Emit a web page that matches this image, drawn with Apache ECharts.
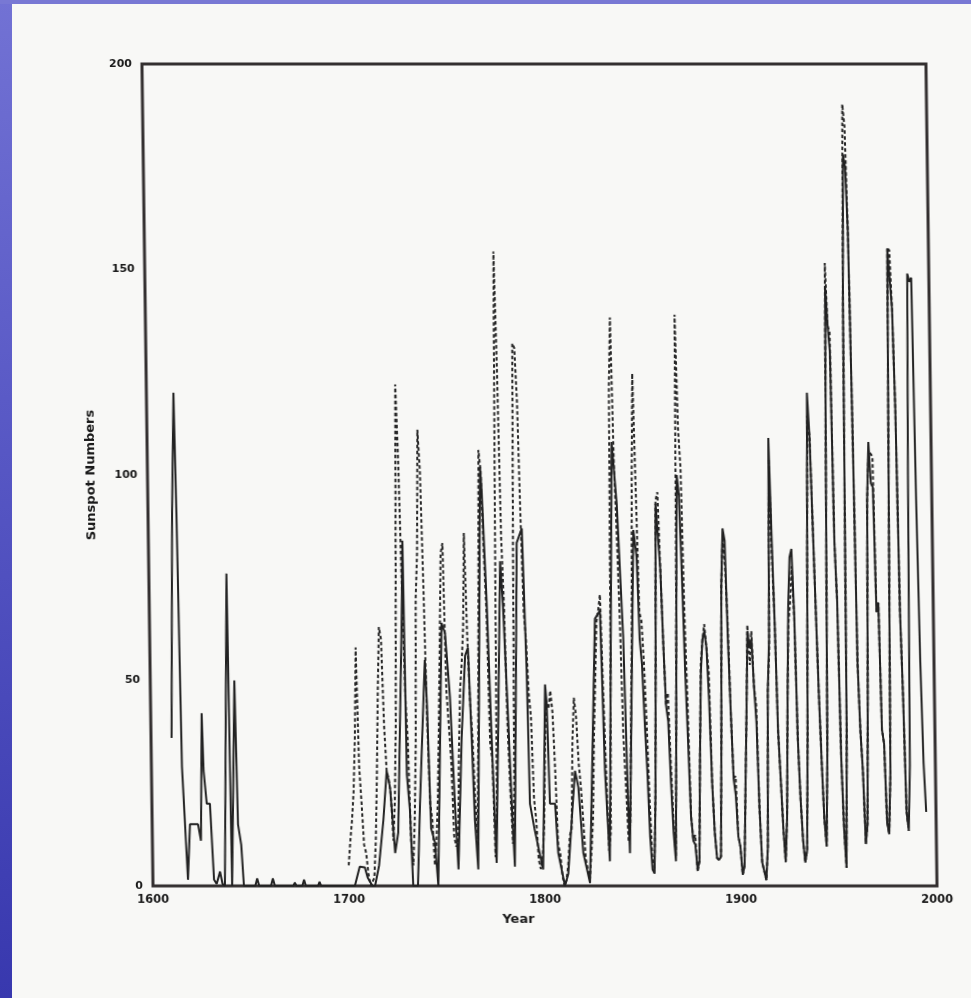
<!DOCTYPE html>
<html><head><meta charset="utf-8">
<script src="https://cdn.jsdelivr.net/npm/echarts/dist/echarts.min.js"></script>
<style>
html,body{margin:0;padding:0;background:#f8f8f6;overflow:hidden;width:971px;height:998px;}
#chart{position:absolute;left:0;top:0;width:971px;height:998px;transform:skewX(0.77deg);transform-origin:0 886px;}
#blueL{position:absolute;left:0;top:0;width:12px;height:998px;background:linear-gradient(#7272d4,#5a5ac6 40%,#3838ae);z-index:5}
#blueT{position:absolute;left:0;top:0;width:971px;height:4px;background:#7878d4;z-index:5}
</style></head><body>
<div id="chart"></div><div id="blueL"></div><div id="blueT"></div>
<script>
// x-axis tick labels (years) and y-axis tick labels
const xTicks = [1600, 1700, 1800, 1900, 2000];
const yTicks = [0, 50, 100, 150, 200];

// Solid line (group sunspot numbers), 1610-1849: [year, value]
const groupReadPairs = [
[1610.5,36],[1612.3,91],[1613.8,120],[1614.5,91],[1615.6,29],[1617.9,1.5],[1619.3,15],[1623.4,15],[1624.8,11],[1626,42],[1626.6,28],[1628,20],[1629.6,20],[1631.2,1.5],[1632.5,0.5],[1634.3,3.5],[1635.5,0.5],[1636.7,0],[1639.6,76],[1640.4,0],[1641,0],[1642.9,50],[1643.8,15],[1645.3,10],[1646.4,0],
[1652.2,0],[1653.2,1.8],[1654.2,0],[1660.2,0],[1661.2,1.8],[1662.2,0],[1671.6,0],[1672.4,0.8],[1673.2,0],[1676.2,0],[1677.1,1.5],[1678,0],[1684.2,0],[1685,1],[1685.8,0],
[1703,0],[1705.6,4.7],[1708.2,4.5],[1709.6,2],[1712,0],[1713.3,0],[1715.5,5],[1718,16],[1720,28],[1721.6,24],[1723,14],[1723.8,8],[1725.5,13],[1728.7,65],[1729.6,84],[1730,52],[1730.3,27],[1731.6,18.5],[1732.8,0],[1735.2,0],[1736.8,20],[1740.2,55],[1741,44.5],[1742.3,14],[1744.2,10.5],[1745.6,0],[1749,64],[1750.7,61.5],[1752.8,46],[1754.6,20],[1756,4],[1758.5,36],[1760.8,56],[1762.3,58],[1763.6,36],[1764.7,16],[1766.1,4],[1769.7,102],[1770.4,96],[1772.2,69],[1773.8,36],[1775.5,5.6],[1779.3,79],[1780.5,68],[1782.4,40],[1783.6,20],[1784.8,4.7],[1787.9,83.5],[1790.6,87],[1792.1,52.6],[1792.9,20],[1795,14],[1797.5,8],[1799.2,4],
[1801.4,49],[1802.1,44.5],[1803.1,20],[1805.7,20],[1807,8],[1810.2,0],[1812,3],[1814.1,16],[1816.1,28],[1817.7,24],[1819.8,8],[1823,0.7],[1827.3,65],[1829.9,67],[1831.4,28],[1833.3,6],[1837,108],[1839.2,93],[1841.6,60.7],[1843,20],[1843.6,8],[1847.5,86.6],[1849,80]
];

// Solid line, yearly values from 1850
const groupYearlyStart = 1850;
const groupYearly = [
60,54,40,28,12,4,3,22,55,93,
93,77,59,44,40,25,13,6,37,70,
100,95,75,52,35,17,11,10,4,6,
32,52,60,62,58,45,25,13,6.8,6.3,
7.1,35.6,73,87,84,60,42,26,22,12,
9.5,2.7,5,24.4,42,62,58,60,48.5,40,
18.6,5.7,3.6,1.4,9.6,47.4,60,109,85,63.6,
37.6,26.1,14.2,5.8,16.7,44.3,68,80,82,66,
35.7,21.2,11.1,5.7,8.7,36.1,80,120,109.6,88.8,
67.8,47.5,30.6,16.3,9.6,33.2,92.6,146,136.3,130,
83.9,69.4,31.5,13.9,4.4,38,141.7,178,175,159,
112.3,53.9,37.6,27.9,10.2,15.1,47,93.8,108,98,
97,66.6,68.9,38,34.5,15.5,12.6,27.5,92.5,155,
154.6,140.4,115.9,66.6,45.9,17.9,13.4,29.4,100,149,
147,148,94,54.6,29.9,18
];

// Dashed line (Wolf sunspot numbers), yearly from 1700
const wolfStart = 1700;
const wolfYearly = [
5,11,16,23,36,58,29,20,10,8,
3,0,0,2,11,27,47,63,60,39,
28,26,22,11,21,40,78,122,103,73,
47,35,11,5,16,34,70,81,111,101,
73,40,20,16,5,11,22,40,60,80.9,
83.4,47.7,47.8,30.7,12.2,9.6,10.2,32.4,47.6,54,
62.9,85.9,61.2,45.1,36.4,20.9,11.4,37.8,69.8,106.1,
100.8,81.6,66.5,34.8,30.6,7,19.8,92.5,154.4,125.9,
84.8,68.1,38.5,22.8,10.2,24.1,82.9,132,130.9,118.1,
89.9,66.6,60,46.9,41,21.3,16,6.4,4.1,6.8,
14.5,34,45,43.1,47.5,42.2,28.1,10.1,8.1,2.5,
0,1.4,5,12.2,13.9,35.4,45.8,41.1,30.1,23.9,
15.6,6.6,4,1.8,8.5,16.6,36.3,49.6,64.2,67,
70.9,47.8,27.5,8.5,13.2,56.9,121.5,138.3,103.2,85.7,
64.6,36.7,24.2,10.7,15,40.1,61.5,98.5,124.7,96.3,
66.6,64.5,54.1,39,20.6,6.7,4.3,22.7,54.8,93.8,
95.8,77.2,59.1,44,47,30.5,16.3,7.3,37.6,74,
139,111.2,101.6,66.2,44.7,17,11.3,12.4,3.4,6,
32.3,54.3,59.7,63.7,63.5,52.2,25.4,13.1,6.8,6.3,
7.1,35.6,73,85.1,78,64,41.8,26.2,26.7,12.1,
9.5,2.7,5,24.4,42,63.5,53.8,62,48.5,43.9,
18.6,5.7,3.6,1.4,9.6,47.4,57.1,103.9,80.6,63.6,
37.6,26.1,14.2,5.8,16.7,44.3,63.9,69,77.8,64.9,
35.7,21.2,11.1,5.7,8.7,36.1,79.7,114.4,109.6,88.8,
67.8,47.5,30.6,16.3,9.6,33.2,92.6,151.6,136.3,134.7,
83.9,69.4,31.5,13.9,4.4,38,141.7,190.2,184.8,159,
112.3,53.9,37.6,27.9,10.2,15.1,47,93.8,105.9,105.5,
104.5,66.6,68.9,38,34.5,15.5,12.6,27.5,92.5,155.4,
154.6,140.4,115.9,66.6,45.9,17.9,13.4
];

const solidData = groupReadPairs.concat(groupYearly.map((v, i) => [groupYearlyStart + i, v]));
const dashedData = wolfYearly.map((v, i) => [wolfStart + i, v]);

const labelFont = 'DejaVu Sans';
const chart = echarts.init(document.getElementById('chart'), null, {renderer: 'canvas'});
chart.setOption({
  backgroundColor: 'transparent',
  animation: false,
  grid: {left: 153, right: 34, top: 64, bottom: 112, show: true, borderColor: '#332f2f', borderWidth: 3, backgroundColor: 'transparent'},
  xAxis: {
    type: 'value', min: xTicks[0], max: xTicks[xTicks.length - 1], interval: 100,
    axisLine: {show: false}, axisTick: {show: false}, splitLine: {show: false},
    axisLabel: {margin: 8, color: '#1a1a1a', fontFamily: labelFont, fontWeight: 'bold', fontSize: 11.5,
      formatter: v => xTicks.includes(v) ? String(v) : ''},
    name: 'Year', nameLocation: 'middle', nameGap: 27,
    nameTextStyle: {color: '#1a1a1a', fontFamily: labelFont, fontWeight: 'bold', fontSize: 13, padding: [0, 54, 0, 0]}
  },
  yAxis: {
    type: 'value', min: yTicks[0], max: yTicks[yTicks.length - 1], interval: 50,
    axisLine: {show: false}, axisTick: {show: false}, splitLine: {show: false},
    axisLabel: {margin: 10, color: '#1a1a1a', fontFamily: labelFont, fontWeight: 'bold', fontSize: 11,
      formatter: v => yTicks.includes(v) ? String(v) : ''},
    name: 'Sunspot Numbers', nameLocation: 'middle', nameGap: 50, nameRotate: 90,
    nameTextStyle: {color: '#1a1a1a', fontFamily: labelFont, fontWeight: 'bold', fontSize: 13}
  },
  series: [
    {type: 'line', name: 'Wolf', data: dashedData, showSymbol: false, symbol: 'none', z: 2,
      lineStyle: {color: '#262626', width: 2, type: [3.5, 2.5]}},
    {type: 'line', name: 'Group', data: solidData, showSymbol: false, symbol: 'none', z: 3,
      lineStyle: {color: '#222222', width: 2}}
  ]
});
</script></body></html>
